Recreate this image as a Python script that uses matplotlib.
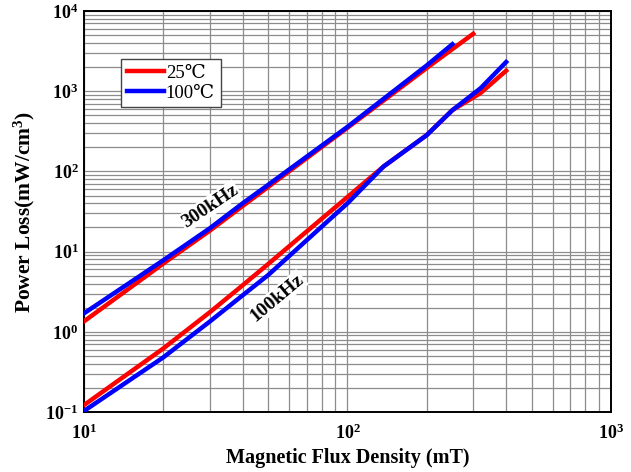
import numpy as np
import matplotlib
matplotlib.use('Agg')
import matplotlib.pyplot as plt
from matplotlib.ticker import LogLocator, FuncFormatter

plt.rcParams['font.family'] = ['Liberation Serif', 'DejaVu Serif', 'DejaVu Sans']
plt.rcParams['mathtext.fontset'] = 'custom'
plt.rcParams['mathtext.rm'] = 'Liberation Serif:bold'
plt.rcParams['mathtext.bf'] = 'Liberation Serif:bold'
plt.rcParams['mathtext.it'] = 'Liberation Serif:bold'

# 300 kHz curves
b_300_25 = [10, 20, 30, 40, 50, 100, 200, 300]
p_300_25 = [1.35, 7.1, 18.2, 37, 64, 350, 1950, 5200]
b_300_100 = [10, 20, 30, 40, 50, 100, 200, 250]
p_300_100 = [1.7, 7.8, 19.5, 40, 68, 360, 2100, 3850]

# 100 kHz curves
b_100_25 = [10, 20, 30, 40, 50, 100, 137, 200, 250, 320, 400]
p_100_25 = [0.122, 0.62, 1.75, 3.8, 7.0, 48, 115, 284, 580, 950, 1800]
b_100_100 = [10, 20, 30, 40, 50, 100, 137, 200, 250, 320, 400]
p_100_100 = [0.103, 0.48, 1.34, 2.85, 5.1, 40, 115, 284, 580, 1090, 2310]

fig = plt.figure(figsize=(6.31, 4.72), dpi=100)
ax = fig.add_axes([0.1331, 0.1271, 0.8352, 0.8496])

lw = 3.2
ax.plot(b_300_25, p_300_25, color='#ff0000', lw=lw, label='25\u2103', zorder=3)
ax.plot(b_100_25, p_100_25, color='#ff0000', lw=lw, zorder=3)
ax.plot(b_300_100, p_300_100, color='#0000ff', lw=lw, label='100\u2103', zorder=4)
ax.plot(b_100_100, p_100_100, color='#0000ff', lw=lw, zorder=4)

ax.set_xscale('log')
ax.set_yscale('log')
ax.set_xlim(10, 1000)
ax.set_ylim(0.1, 10000)

ax.xaxis.set_minor_locator(LogLocator(base=10, subs=np.arange(2, 10)))
ax.yaxis.set_minor_locator(LogLocator(base=10, subs=np.arange(2, 10)))
fmt = FuncFormatter(lambda v, p: r'$\mathbf{10^{%d}}$' % round(np.log10(v)))
ax.xaxis.set_major_formatter(fmt)
ax.yaxis.set_major_formatter(fmt)
ax.xaxis.set_minor_formatter(FuncFormatter(lambda v, p: ''))
ax.yaxis.set_minor_formatter(FuncFormatter(lambda v, p: ''))
ax.tick_params(which='both', length=0, labelsize=13)
ax.tick_params(axis='x', pad=8)
ax.tick_params(axis='y', pad=4)

ax.grid(True, which='both', color='#8c8c8c', lw=0.9)
for s in ax.spines.values():
    s.set_linewidth(1.4)
    s.set_color('black')

ax.set_xlabel('Magnetic Flux Density (mT)', fontsize=14.5, fontweight='bold', labelpad=4)
ax.set_ylabel('Power Loss(mW/cm$^3$)', fontsize=15.5, fontweight='bold', labelpad=6)

box = dict(facecolor='white', edgecolor='none', pad=1.0)
ax.text(30, 37, '300kHz', rotation=34, fontsize=14, fontweight='bold',
        ha='center', va='center', bbox=box, zorder=2.5)
ax.text(54, 2.64, '100kHz', rotation=40, fontsize=14, fontweight='bold',
        ha='center', va='center', bbox=box, zorder=2.5)

leg = ax.legend(loc='upper left', bbox_to_anchor=(0.07, 0.88), fontsize=13.5,
                frameon=True, fancybox=False, handlelength=2.0,
                handletextpad=0.1, borderpad=0.3, labelspacing=0.15,
                borderaxespad=0)
leg.get_frame().set_edgecolor('#444444')
leg.get_frame().set_linewidth(1.0)
leg.get_frame().set_alpha(1)

fig.savefig('out.png', dpi=100)
